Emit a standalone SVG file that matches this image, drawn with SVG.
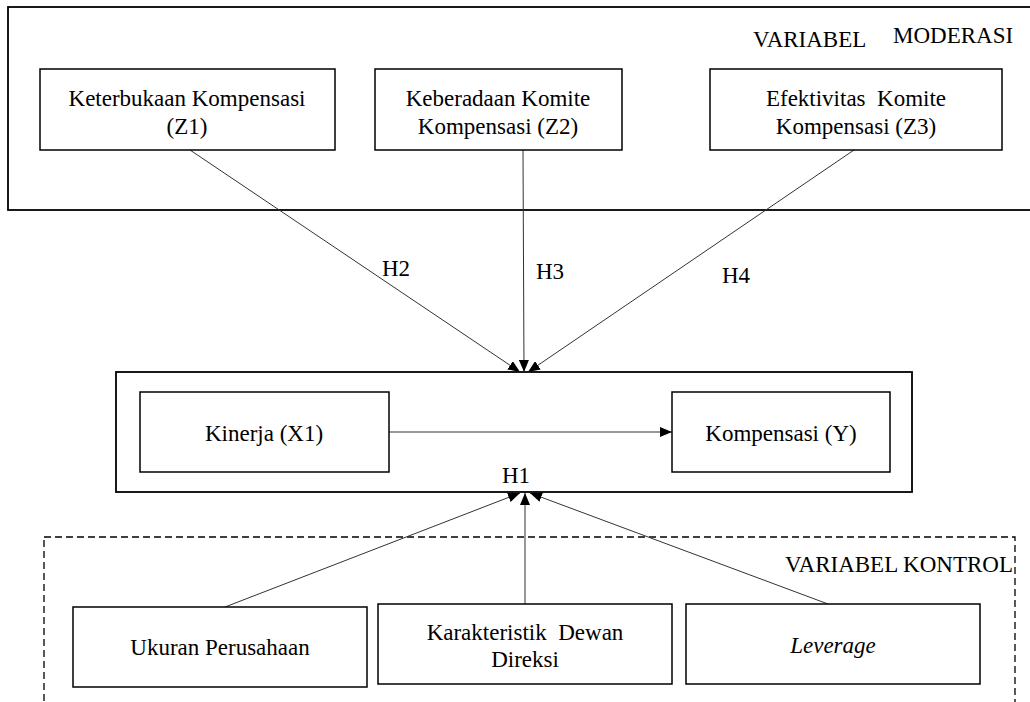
<svg xmlns="http://www.w3.org/2000/svg" width="1030" height="702" viewBox="0 0 1030 702">
<defs>
<marker id="ah" viewBox="0 0 12 10" refX="12" refY="5" markerWidth="12" markerHeight="10" markerUnits="userSpaceOnUse" orient="auto">
<path d="M0,0 L12,5 L0,10 Z" fill="#000"/>
</marker>
<style>
.box{fill:#fff;stroke:#000;stroke-width:1.5}
.frame{fill:none;stroke:#000;stroke-width:1.8}
.dash{fill:none;stroke:#000;stroke-width:1.3;stroke-dasharray:7,4}
.conn{stroke:#333;stroke-width:1;fill:none}
text{font-family:"Liberation Serif","Times New Roman",serif;font-size:23px;fill:#000}
.c{text-anchor:middle}
</style>
</defs>
<rect width="1030" height="702" fill="#fff"/>
<g id="moderasi-frame">
<rect class="frame" x="8" y="7" width="1040" height="203"/>
<text x="753" y="47">VARIABEL</text>
<text x="893" y="43">MODERASI</text>
</g>
<g id="kontrol-frame">
<rect class="dash" x="44" y="537" width="971" height="200"/>
<text x="1013" y="572" text-anchor="end">VARIABEL KONTROL</text>
</g>
<g id="main-frame">
<rect class="frame" x="116" y="372" width="796" height="120"/>
</g>
<g id="connectors">
<line class="conn" x1="190" y1="150" x2="520" y2="372" marker-end="url(#ah)"/>
<line class="conn" x1="523" y1="150" x2="524" y2="372" marker-end="url(#ah)"/>
<line class="conn" x1="854" y1="150" x2="528" y2="372" marker-end="url(#ah)"/>
<line class="conn" x1="389" y1="432" x2="672" y2="432" marker-end="url(#ah)"/>
<line class="conn" x1="225" y1="607" x2="520" y2="493" marker-end="url(#ah)"/>
<line class="conn" x1="525" y1="604" x2="525" y2="493" marker-end="url(#ah)"/>
<line class="conn" x1="828" y1="604" x2="530" y2="493" marker-end="url(#ah)"/>
<text x="382" y="276">H2</text>
<text x="536" y="279">H3</text>
<text x="722" y="283">H4</text>
<text x="502" y="483">H1</text>
</g>
<g id="z1">
<rect class="box" x="40" y="69" width="295" height="81"/>
<text class="c" x="187" y="106">Keterbukaan Kompensasi</text>
<text class="c" x="187" y="134">(Z1)</text>
</g>
<g id="z2">
<rect class="box" x="375" y="69" width="247" height="81"/>
<text class="c" x="498" y="106">Keberadaan Komite</text>
<text class="c" x="498" y="134">Kompensasi (Z2)</text>
</g>
<g id="z3">
<rect class="box" x="710" y="69" width="292" height="81"/>
<text class="c" x="856" y="106" xml:space="preserve">Efektivitas  Komite</text>
<text class="c" x="856" y="134">Kompensasi (Z3)</text>
</g>
<g id="x1">
<rect class="box" x="140" y="392" width="249" height="80"/>
<text class="c" x="264" y="441">Kinerja (X1)</text>
</g>
<g id="y">
<rect class="box" x="672" y="392" width="218" height="80"/>
<text class="c" x="781" y="441">Kompensasi (Y)</text>
</g>
<g id="ukuran">
<rect class="box" x="73" y="607" width="294" height="80"/>
<text class="c" x="220" y="655">Ukuran Perusahaan</text>
</g>
<g id="karakteristik">
<rect class="box" x="378" y="604" width="294" height="80"/>
<text class="c" x="525" y="640" xml:space="preserve">Karakteristik  Dewan</text>
<text class="c" x="525" y="667">Direksi</text>
</g>
<g id="leverage">
<rect class="box" x="686" y="604" width="294" height="80"/>
<text class="c" x="833" y="653" font-style="italic">Leverage</text>
</g>
</svg>
